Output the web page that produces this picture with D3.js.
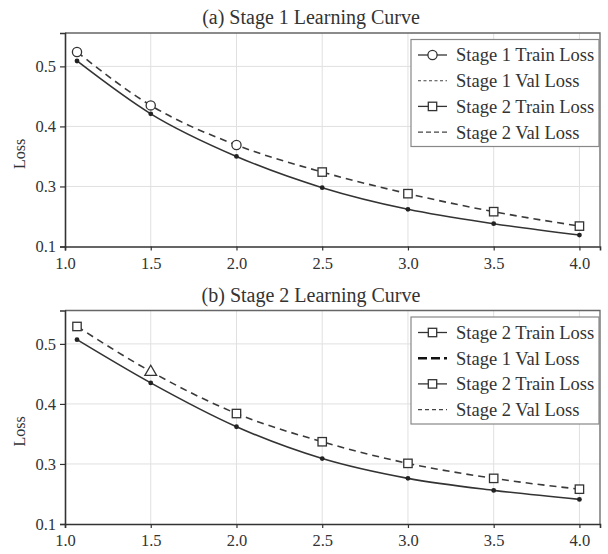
<!DOCTYPE html>
<html>
<head>
<meta charset="utf-8">
<script src="https://cdn.jsdelivr.net/npm/d3@7"></script>
<style>
  body { margin: 0; background: #fff; }
  svg, svg text { font-family: "Liberation Serif", "Times New Roman", Times, serif; }
</style>
</head>
<body>
<script>
// data
var xValues = [1.07, 1.5, 2.0, 2.5, 3.0, 3.5, 4.0];
var stage1Train = [0.509, 0.421, 0.350, 0.298, 0.262, 0.238, 0.219];
var stage1Val = [0.524, 0.435, 0.369, 0.324, 0.288, 0.258, 0.234];
var stage2Train = [0.507, 0.435, 0.362, 0.309, 0.276, 0.256, 0.241];
var stage2Val = [0.529, 0.454, 0.384, 0.337, 0.301, 0.276, 0.258];
var valMarkersA = ["circle", "circle", "circle", "square", "square", "square", "square"];
var valMarkersB = ["square", "triangle", "square", "square", "square", "square", "square"];

var xTicks = [1.0, 1.5, 2.0, 2.5, 3.0, 3.5, 4.0];
var yTicks = [0.2, 0.3, 0.4, 0.5];
var yTickLabels = ["0.1", "0.3", "0.4", "0.5"];

var titles = ["(a) Stage 1 Learning Curve", "(b) Stage 2 Learning Curve"];
var legendA = ["Stage 1 Train Loss", "Stage 1 Val Loss", "Stage 2 Train Loss", "Stage 2 Val Loss"];
var legendB = ["Stage 2 Train Loss", "Stage 1 Val Loss", "Stage 2 Train Loss", "Stage 2 Val Loss"];

var FONT = '"Liberation Serif", "Times New Roman", Times, serif';
var W = 608, H = 554;
var svg = d3.select("body").append("svg").attr("width", W).attr("height", H);

var x = d3.scaleLinear().domain([1.0, 4.12]).range([65, 600]);
var y = d3.scaleLinear().domain([0.2, 0.5556]).range([246.5, 33]);

function marker(g, kind, cx, cy) {
    if (kind == "circle") {
        g.append("circle").attr("cx", cx).attr("cy", cy).attr("r", 4.6)
            .attr("fill", "#fff").attr("stroke", "#333").attr("stroke-width", 1.3);
    } else if (kind == "square") {
        g.append("rect").attr("x", cx - 4.2).attr("y", cy - 4.2)
            .attr("width", 8.4).attr("height", 8.4)
            .attr("fill", "#fff").attr("stroke", "#333").attr("stroke-width", 1.3);
    } else if (kind == "triangle") {
        g.append("path").attr("d", d3.symbol(d3.symbolTriangle, 60)())
            .attr("transform", "translate(" + cx + "," + (cy + 0.5) + ")")
            .attr("fill", "#fff").attr("stroke", "#333").attr("stroke-width", 1.3);
    }
}

function drawPanel(offset, title, train, val, valMarkers, legendLabels, legendStyles) {
    let g = svg.append("g").attr("transform", "translate(0," + offset + ")");

    // grid
    g.selectAll("line.vg").data(xTicks.slice(1)).join("line")
        .attr("x1", d => x(d)).attr("x2", d => x(d))
        .attr("y1", y.range()[1]).attr("y2", y.range()[0])
        .attr("stroke", "#e0e0e0").attr("stroke-width", 1);
    g.selectAll("line.hg").data(yTicks.slice(1)).join("line")
        .attr("x1", x.range()[0]).attr("x2", x.range()[1])
        .attr("y1", d => y(d)).attr("y2", d => y(d))
        .attr("stroke", "#e0e0e0").attr("stroke-width", 1);

    // frame top/right
    g.append("path")
        .attr("d", "M" + x.range()[0] + "," + y.range()[1] + "H" + x.range()[1] + "V" + y.range()[0])
        .attr("fill", "none").attr("stroke", "#666").attr("stroke-width", 1.3);

    // axes
    let xAxis = d3.axisBottom(x).tickValues(xTicks).tickSize(4).tickPadding(4)
        .tickFormat(d3.format(".1f"));
    let yAxis = d3.axisLeft(y).tickValues(yTicks).tickSize(5).tickPadding(4)
        .tickFormat((d, i) => yTickLabels[i]);
    let xa = g.append("g").attr("transform", "translate(0," + y.range()[0] + ")").call(xAxis);
    let ya = g.append("g").attr("transform", "translate(" + x.range()[0] + ",0)").call(yAxis);
    [xa, ya].forEach(a => {
        a.attr("font-family", FONT).attr("font-size", 16.5);
        a.select(".domain").attr("stroke", "#333").attr("stroke-width", 1.6);
        a.selectAll(".tick line").attr("stroke", "#333").attr("stroke-width", 1.2);
        a.selectAll(".tick text").attr("fill", "#333");
    });
    xa.selectAll(".tick text").attr("dy", "0.85em");

    // title and y label
    g.append("text").attr("x", 311).attr("y", 24).attr("text-anchor", "middle")
        .attr("font-family", FONT).attr("font-size", 20).attr("fill", "#333").text(title);
    g.append("text").attr("transform", "translate(25,154) rotate(-90)")
        .attr("text-anchor", "middle").attr("font-family", FONT).attr("font-size", 16)
        .attr("fill", "#333").text("Loss");

    let line = d3.line().x((d, i) => x(xValues[i])).y(d => y(d)).curve(d3.curveMonotoneX);

    // train (solid with dots)
    g.append("path").datum(train).attr("d", line)
        .attr("fill", "none").attr("stroke", "#333").attr("stroke-width", 1.6);
    g.selectAll("circle.dot").data(train).join("circle")
        .attr("cx", (d, i) => x(xValues[i])).attr("cy", d => y(d)).attr("r", 2.4)
        .attr("fill", "#222");

    // val (dashed with open markers)
    g.append("path").datum(val).attr("d", line)
        .attr("fill", "none").attr("stroke", "#3a3a3a").attr("stroke-width", 1.6)
        .attr("stroke-dasharray", "7,5");
    val.forEach((d, i) => marker(g, valMarkers[i], x(xValues[i]), y(d)));

    // legend
    let lg = g.append("g");
    lg.append("rect").attr("x", 411).attr("y", 39.5).attr("width", 188).attr("height", 107)
        .attr("fill", "#fff").attr("stroke", "#888").attr("stroke-width", 1.2);
    legendLabels.forEach((lab, i) => {
        let cy = 55 + i * 25.7;
        let s = legendStyles[i];
        lg.append("line").attr("x1", 418).attr("x2", 447).attr("y1", cy).attr("y2", cy)
            .attr("stroke", s.color).attr("stroke-width", s.width)
            .attr("stroke-dasharray", s.dash);
        if (s.marker) marker(lg, s.marker, 432.5, cy);
        lg.append("text").attr("x", 456).attr("y", cy).attr("dy", "0.35em")
            .attr("font-family", FONT).attr("font-size", 18.5).attr("fill", "#333").text(lab);
    });
}

var stylesA = [
    { color: "#333", width: 1.3, dash: null, marker: "circle" },
    { color: "#444", width: 1.1, dash: "3,2.5", marker: null },
    { color: "#333", width: 1.3, dash: null, marker: "square" },
    { color: "#444", width: 1.3, dash: "5,3", marker: null }
];
var stylesB = [
    { color: "#333", width: 1.3, dash: null, marker: "square" },
    { color: "#111", width: 2.6, dash: "9,4", marker: null },
    { color: "#333", width: 1.3, dash: null, marker: "square" },
    { color: "#444", width: 1.1, dash: "4,3", marker: null }
];

drawPanel(0, titles[0], stage1Train, stage1Val, valMarkersA, legendA, stylesA);
drawPanel(277.5, titles[1], stage2Train, stage2Val, valMarkersB, legendB, stylesB);
</script>
</body>
</html>
